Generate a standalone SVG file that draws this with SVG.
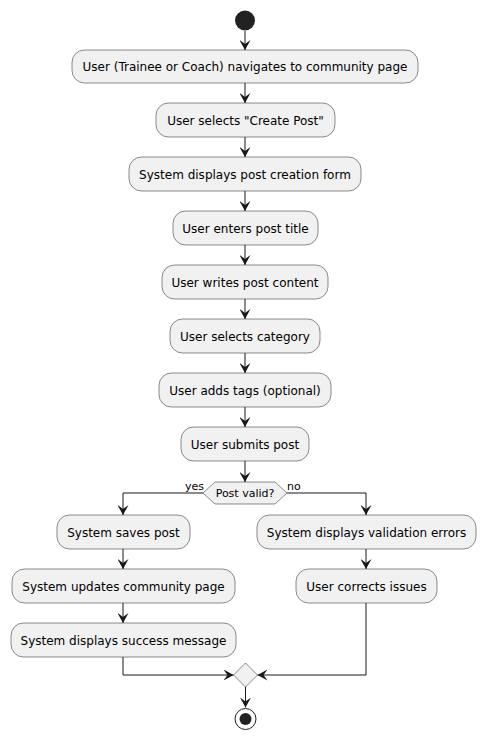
<svg xmlns="http://www.w3.org/2000/svg" width="486" height="739" viewBox="0 0 486 739">
<defs>
<style>
.box{fill:#F1F1F1;stroke:#181818;stroke-width:0.5}
.t{font-family:"DejaVu Sans",sans-serif;font-size:12px;fill:#000;text-anchor:middle}
.l{font-family:"DejaVu Sans",sans-serif;font-size:11px;fill:#000}
.ln{fill:none;stroke:#181818;stroke-width:1}
</style>
<marker id="arr" viewBox="0 0 10 11" refX="10" refY="5.5" markerWidth="10" markerHeight="11" markerUnits="userSpaceOnUse" orient="auto">
<path d="M0,0 L10,5.5 L0,11 L4,5.5 Z" fill="#181818"/>
</marker>
</defs>
<rect width="486" height="739" fill="#FFFFFF"/>
<g id="connectors">
<path class="ln" d="M245,31 V50" marker-end="url(#arr)"/>
<path class="ln" d="M245,83 V103" marker-end="url(#arr)"/>
<path class="ln" d="M245,137 V157" marker-end="url(#arr)"/>
<path class="ln" d="M245,191 V211" marker-end="url(#arr)"/>
<path class="ln" d="M245,245 V265" marker-end="url(#arr)"/>
<path class="ln" d="M245,299 V319" marker-end="url(#arr)"/>
<path class="ln" d="M245,353 V373" marker-end="url(#arr)"/>
<path class="ln" d="M245,407 V427" marker-end="url(#arr)"/>
<path class="ln" d="M245,461 V482" marker-end="url(#arr)"/>
<path class="ln" d="M203,493 H123 V515" marker-end="url(#arr)"/>
<path class="ln" d="M287,493 H366 V515" marker-end="url(#arr)"/>
<path class="ln" d="M123,549 V569" marker-end="url(#arr)"/>
<path class="ln" d="M123,603 V623" marker-end="url(#arr)"/>
<path class="ln" d="M366,549 V569" marker-end="url(#arr)"/>
<path class="ln" d="M123,657 V675 H233.5" marker-end="url(#arr)"/>
<path class="ln" d="M366,603 V675 H257.5" marker-end="url(#arr)"/>
<path class="ln" d="M245.5,687 V707.5" marker-end="url(#arr)"/>
<text class="l" x="185" y="490">yes</text>
<text class="l" x="287" y="490">no</text>
</g>
<g id="start"><circle cx="245" cy="20.5" r="10" fill="#222222"/></g>
<g id="n1"><rect class="box" x="72" y="50" width="346" height="33" rx="12.5"/><text class="t" x="245" y="71">User (Trainee or Coach) navigates to community page</text></g>
<g id="n2"><rect class="box" x="156" y="103" width="179" height="34" rx="12.5"/><text class="t" x="245.5" y="124.5">User selects "Create Post"</text></g>
<g id="n3"><rect class="box" x="129" y="157" width="232" height="34" rx="12.5"/><text class="t" x="245" y="178.5">System displays post creation form</text></g>
<g id="n4"><rect class="box" x="173" y="211" width="145" height="34" rx="12.5"/><text class="t" x="245.5" y="232.5">User enters post title</text></g>
<g id="n5"><rect class="box" x="162" y="265" width="166" height="34" rx="12.5"/><text class="t" x="245" y="286.5">User writes post content</text></g>
<g id="n6"><rect class="box" x="170" y="319" width="150" height="34" rx="12.5"/><text class="t" x="245" y="340.5">User selects category</text></g>
<g id="n7"><rect class="box" x="159" y="373" width="172" height="34" rx="12.5"/><text class="t" x="245" y="394.5">User adds tags (optional)</text></g>
<g id="n8"><rect class="box" x="181" y="427" width="128" height="34" rx="12.5"/><text class="t" x="245" y="448.5">User submits post</text></g>
<g id="d1"><polygon class="box" points="203,493 215,482 275,482 287,493 275,504 215,504"/><text class="l" x="245" y="497" text-anchor="middle">Post valid?</text></g>
<g id="n9"><rect class="box" x="57" y="515" width="133" height="34" rx="12.5"/><text class="t" x="123.5" y="536.5">System saves post</text></g>
<g id="n10"><rect class="box" x="12" y="569" width="223" height="34" rx="12.5"/><text class="t" x="123.5" y="590.5">System updates community page</text></g>
<g id="n11"><rect class="box" x="11" y="623" width="225" height="34" rx="12.5"/><text class="t" x="123.5" y="644.5">System displays success message</text></g>
<g id="n12"><rect class="box" x="257" y="515" width="219" height="34" rx="12.5"/><text class="t" x="366.5" y="536.5">System displays validation errors</text></g>
<g id="n13"><rect class="box" x="296" y="569" width="141" height="34" rx="12.5"/><text class="t" x="366.5" y="590.5">User corrects issues</text></g>
<g id="merge"><polygon class="box" points="245.5,663 257.5,675 245.5,687 233.5,675"/></g>
<g id="end"><circle cx="245.5" cy="719" r="10.5" fill="none" stroke="#222222" stroke-width="1"/><circle cx="245.5" cy="719" r="6" fill="#222222"/></g>
</svg>
